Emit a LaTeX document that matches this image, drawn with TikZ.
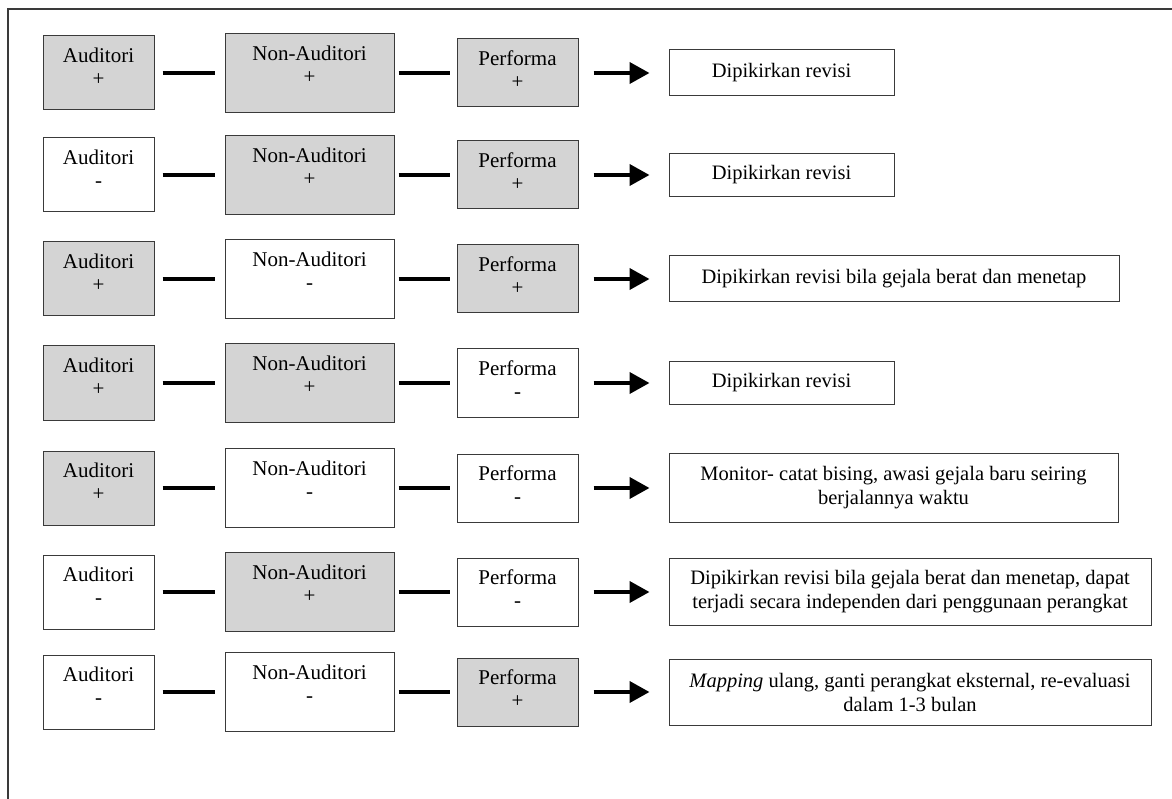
\documentclass[tikz,border=0pt]{standalone}
\usepackage{fontspec}
\setmainfont{Liberation Serif}
\usetikzlibrary{arrows.meta}
\definecolor{boxgray}{HTML}{D4D4D4}
\definecolor{edgegray}{HTML}{3A3A3A}
\begin{document}
\begin{tikzpicture}[x=1pt,y=-1pt,
  every node/.style={inner sep=0pt},
  txt/.style={font=\fontsize{21}{23}\selectfont, align=center},
  audbox/.style={draw=edgegray, line width=1pt, minimum width=111pt, minimum height=74pt},
  nonbox/.style={draw=edgegray, line width=1pt, minimum width=169pt, minimum height=79pt},
  perfbox/.style={draw=edgegray, line width=1pt, minimum width=121pt, minimum height=68pt},
  resbox/.style={draw=edgegray, line width=1pt, align=center, font=\fontsize{20.5}{24}\selectfont},
  plusfill/.style={fill=boxgray},
  minusfill/.style={fill=white},
  conn/.style={line width=4pt},
  c1/.style={conn, shorten <=8pt, shorten >=10pt},
  c2/.style={conn, shorten <=4pt, shorten >=7pt},
  res/.style={conn, -{Triangle[length=20pt,width=21pt]}, shorten <=15pt, shorten >=19pt}
]
\useasboundingbox (0,0) rectangle (1172,799);
% open frame: top and left edges only
\draw[edgegray, line width=1.3pt] (8,799) -- (8,9) -- (1172,9);

% ---- row 1
\node[audbox,plusfill] (a1) at (98.5,73) {};
\node[nonbox,plusfill] (n1) at (309.5,73) {};
\node[perfbox,plusfill] (p1) at (517.5,73) {};
\node[txt] (la1) at ([yshift=6]a1.center) {Auditori\\+};
\node[txt] (ln1) at ([yshift=8]n1.center) {Non-Auditori\\+};
\node[txt] (lp1) at ([yshift=3]p1.center) {Performa\\+};
\node[resbox, minimum width=225pt, minimum height=46pt] (r1) at (781.5,73) {Dipikirkan revisi};
\draw[c1] (a1) -- (n1);
\draw[c2] (n1) -- (p1);
\draw[res] (p1) -- (r1);

% ---- row 2
\node[audbox,minusfill] (a2) at (98.5,175) {};
\node[nonbox,plusfill] (n2) at (309.5,175) {};
\node[perfbox,plusfill] (p2) at (517.5,175) {};
\node[txt] (la2) at ([yshift=6]a2.center) {Auditori\\-};
\node[txt] (ln2) at ([yshift=8]n2.center) {Non-Auditori\\+};
\node[txt] (lp2) at ([yshift=3]p2.center) {Performa\\+};
\node[resbox, minimum width=225pt, minimum height=43pt] (r2) at (781.5,175) {Dipikirkan revisi};
\draw[c1] (a2) -- (n2);
\draw[c2] (n2) -- (p2);
\draw[res] (p2) -- (r2);

% ---- row 3
\node[audbox,plusfill] (a3) at (98.5,279) {};
\node[nonbox,minusfill] (n3) at (309.5,279) {};
\node[perfbox,plusfill] (p3) at (517.5,279) {};
\node[txt] (la3) at ([yshift=6]a3.center) {Auditori\\+};
\node[txt] (ln3) at ([yshift=8]n3.center) {Non-Auditori\\-};
\node[txt] (lp3) at ([yshift=3]p3.center) {Performa\\+};
\node[resbox, minimum width=450pt, minimum height=46pt] (r3) at (894,279) {Dipikirkan revisi bila gejala berat dan menetap};
\draw[c1] (a3) -- (n3);
\draw[c2] (n3) -- (p3);
\draw[res] (p3) -- (r3);

% ---- row 4
\node[audbox,plusfill] (a4) at (98.5,383) {};
\node[nonbox,plusfill] (n4) at (309.5,383) {};
\node[perfbox,minusfill] (p4) at (517.5,383) {};
\node[txt] (la4) at ([yshift=6]a4.center) {Auditori\\+};
\node[txt] (ln4) at ([yshift=8]n4.center) {Non-Auditori\\+};
\node[txt] (lp4) at ([yshift=3]p4.center) {Performa\\-};
\node[resbox, minimum width=225pt, minimum height=43pt] (r4) at (781.5,383) {Dipikirkan revisi};
\draw[c1] (a4) -- (n4);
\draw[c2] (n4) -- (p4);
\draw[res] (p4) -- (r4);

% ---- row 5
\node[audbox,plusfill] (a5) at (98.5,488) {};
\node[nonbox,minusfill] (n5) at (309.5,488) {};
\node[perfbox,minusfill] (p5) at (517.5,488) {};
\node[txt] (la5) at ([yshift=6]a5.center) {Auditori\\+};
\node[txt] (ln5) at ([yshift=8]n5.center) {Non-Auditori\\-};
\node[txt] (lp5) at ([yshift=3]p5.center) {Performa\\-};
\node[resbox, minimum width=449pt, minimum height=69pt] (r5) at (893.5,488) {Monitor- catat bising, awasi gejala baru seiring\\berjalannya waktu};
\draw[c1] (a5) -- (n5);
\draw[c2] (n5) -- (p5);
\draw[res] (p5) -- (r5);

% ---- row 6
\node[audbox,minusfill] (a6) at (98.5,592) {};
\node[nonbox,plusfill] (n6) at (309.5,592) {};
\node[perfbox,minusfill] (p6) at (517.5,592) {};
\node[txt] (la6) at ([yshift=6]a6.center) {Auditori\\-};
\node[txt] (ln6) at ([yshift=8]n6.center) {Non-Auditori\\+};
\node[txt] (lp6) at ([yshift=3]p6.center) {Performa\\-};
\node[resbox, minimum width=482pt, minimum height=67pt] (r6) at (910,592) {Dipikirkan revisi bila gejala berat dan menetap, dapat\\terjadi secara independen dari penggunaan perangkat};
\draw[c1] (a6) -- (n6);
\draw[c2] (n6) -- (p6);
\draw[res] (p6) -- (r6);

% ---- row 7
\node[audbox,minusfill] (a7) at (98.5,692) {};
\node[nonbox,minusfill] (n7) at (309.5,692) {};
\node[perfbox,plusfill] (p7) at (517.5,692) {};
\node[txt] (la7) at ([yshift=6]a7.center) {Auditori\\-};
\node[txt] (ln7) at ([yshift=8]n7.center) {Non-Auditori\\-};
\node[txt] (lp7) at ([yshift=3]p7.center) {Performa\\+};
\node[resbox, minimum width=482pt, minimum height=66pt] (r7) at (910,692) {\textit{Mapping} ulang, ganti perangkat eksternal, re-evaluasi\\dalam 1-3 bulan};
\draw[c1] (a7) -- (n7);
\draw[c2] (n7) -- (p7);
\draw[res] (p7) -- (r7);
\end{tikzpicture}
\end{document}
